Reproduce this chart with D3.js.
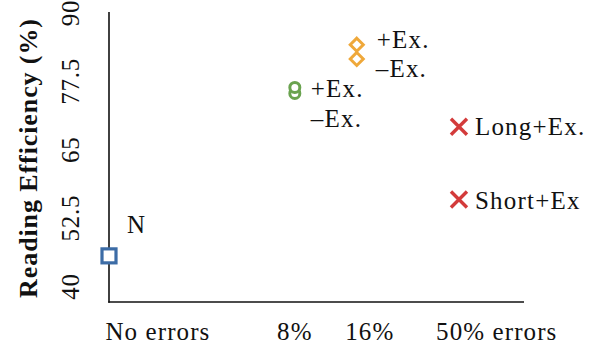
<!DOCTYPE html>
<html>
<head>
<meta charset="utf-8">
<script src="https://cdn.jsdelivr.net/npm/d3@7/dist/d3.min.js"></script>
<style>
  html, body { margin: 0; padding: 0; background: #fff; }
  svg { display: block; }
  text { font-family: "Liberation Serif", "Times New Roman", serif; fill: #111; }
</style>
</head>
<body>
<svg id="chart" width="589" height="346"></svg>
<script>
// Error-rate categories along the x axis and where each sits on the axis
const categories = ["No errors", "8%", "16%", "50% errors"];
const categoryX   = [0, 3, 4, 5.65];
// Where each category's tick label is centred
const tickLabelX  = [0.79, 3.0, 4.21, 6.26];

// Y ticks (reading efficiency, %)
const yTicks = [40, 52.5, 65, 77.5, 90];

// Series: one entry per plotted point
const seriesNames  = ["N", "8% +Ex.", "8% –Ex.", "16% +Ex.", "16% –Ex.", "Long+Ex.", "Short+Ex"];
const seriesCat    = [0, 1, 1, 2, 2, 3, 3];
const seriesValues = [45.6, 75.3, 76.4, 81.6, 84.2, 69.2, 55.9];
const seriesLabels = ["N", "–Ex.", "+Ex.", "–Ex.", "+Ex.", "Long+Ex.", "Short+Ex"];

const blue = "#3c6ca6", green = "#6aa34f", orange = "#efa83a", red = "#d33b3b";

const svg = d3.select("#chart");

const x = d3.scaleLinear().domain([0, 6.7]).range([109, 524]);
const y = d3.scaleLinear().domain([40, 90]).range([286.5, 13]);
const axisBottomY = 302;
const axisTopY = 12;

// axis lines (left + bottom only)
svg.append("line")
  .attr("x1", x(0)).attr("x2", x(0))
  .attr("y1", axisTopY).attr("y2", axisBottomY + 0.75)
  .attr("stroke", "#111").attr("stroke-width", 1.6);
svg.append("line")
  .attr("x1", x(0) - 0.75).attr("x2", x(6.7))
  .attr("y1", axisBottomY).attr("y2", axisBottomY)
  .attr("stroke", "#111").attr("stroke-width", 1.6);

// y tick labels, rotated
svg.append("g").selectAll("text").data(yTicks).join("text")
  .attr("transform", d => `translate(79,${y(d)}) rotate(-90)`)
  .attr("text-anchor", "middle")
  .attr("font-size", 25)
  .attr("letter-spacing", 0.8)
  .text(d => d);

// y axis title
svg.append("text")
  .attr("transform", `translate(37,${(axisTopY + axisBottomY) / 2 + 1}) rotate(-90)`)
  .attr("text-anchor", "middle")
  .attr("font-size", 26)
  .attr("letter-spacing", 0.9)
  .attr("font-weight", "bold")
  .text("Reading Efficiency (%)");

// x tick labels
svg.append("g").selectAll("text").data(categories).join("text")
  .attr("x", (d, i) => x(tickLabelX[i]))
  .attr("y", 340)
  .attr("text-anchor", "middle")
  .attr("font-size", 25)
  .attr("letter-spacing", 1.1)
  .text(d => d);

const points = seriesValues.map((v, i) => ({
  name: seriesNames[i], cat: seriesCat[i], value: v, label: seriesLabels[i],
  px: x(categoryX[seriesCat[i]]), py: y(v)
}));

// markers
const g = svg.append("g");
points.forEach(p => {
  if (p.cat === 0) {
    g.append("rect")
      .attr("x", p.px - 7).attr("y", p.py - 7).attr("width", 14).attr("height", 14)
      .attr("fill", "#fff").attr("stroke", blue).attr("stroke-width", 3.2);
  } else if (p.cat === 1) {
    g.append("circle")
      .attr("cx", p.px).attr("cy", p.py).attr("r", 5)
      .attr("fill", "#fff").attr("stroke", green).attr("stroke-width", 3);
  } else if (p.cat === 2) {
    const s = 6.5;
    g.append("path")
      .attr("d", `M${p.px},${p.py - s}L${p.px + s},${p.py}L${p.px},${p.py + s}L${p.px - s},${p.py}Z`)
      .attr("fill", "#fff").attr("stroke", orange).attr("stroke-width", 3);
  } else {
    const s = 8;
    g.append("path")
      .attr("d", `M${p.px - s},${p.py - s}L${p.px + s},${p.py + s}M${p.px - s},${p.py + s}L${p.px + s},${p.py - s}`)
      .attr("fill", "none").attr("stroke", red).attr("stroke-width", 3.4);
  }
});

// point labels: offsets relative to each marker
const labelOffsets = [
  [18, -23],   // N
  [16, 34],    // 8% –Ex.
  [16, 10],    // 8% +Ex.
  [19, 18],    // 16% –Ex.
  [20, 3],     // 16% +Ex.
  [16, 8],     // Long+Ex.
  [16, 9]      // Short+Ex
];
svg.append("g").selectAll("text").data(points).join("text")
  .attr("x", (d, i) => d.px + labelOffsets[i][0])
  .attr("y", (d, i) => d.py + labelOffsets[i][1])
  .attr("font-size", 25)
  .attr("letter-spacing", 1.2)
  .text(d => d.label);
</script>
</body>
</html>
